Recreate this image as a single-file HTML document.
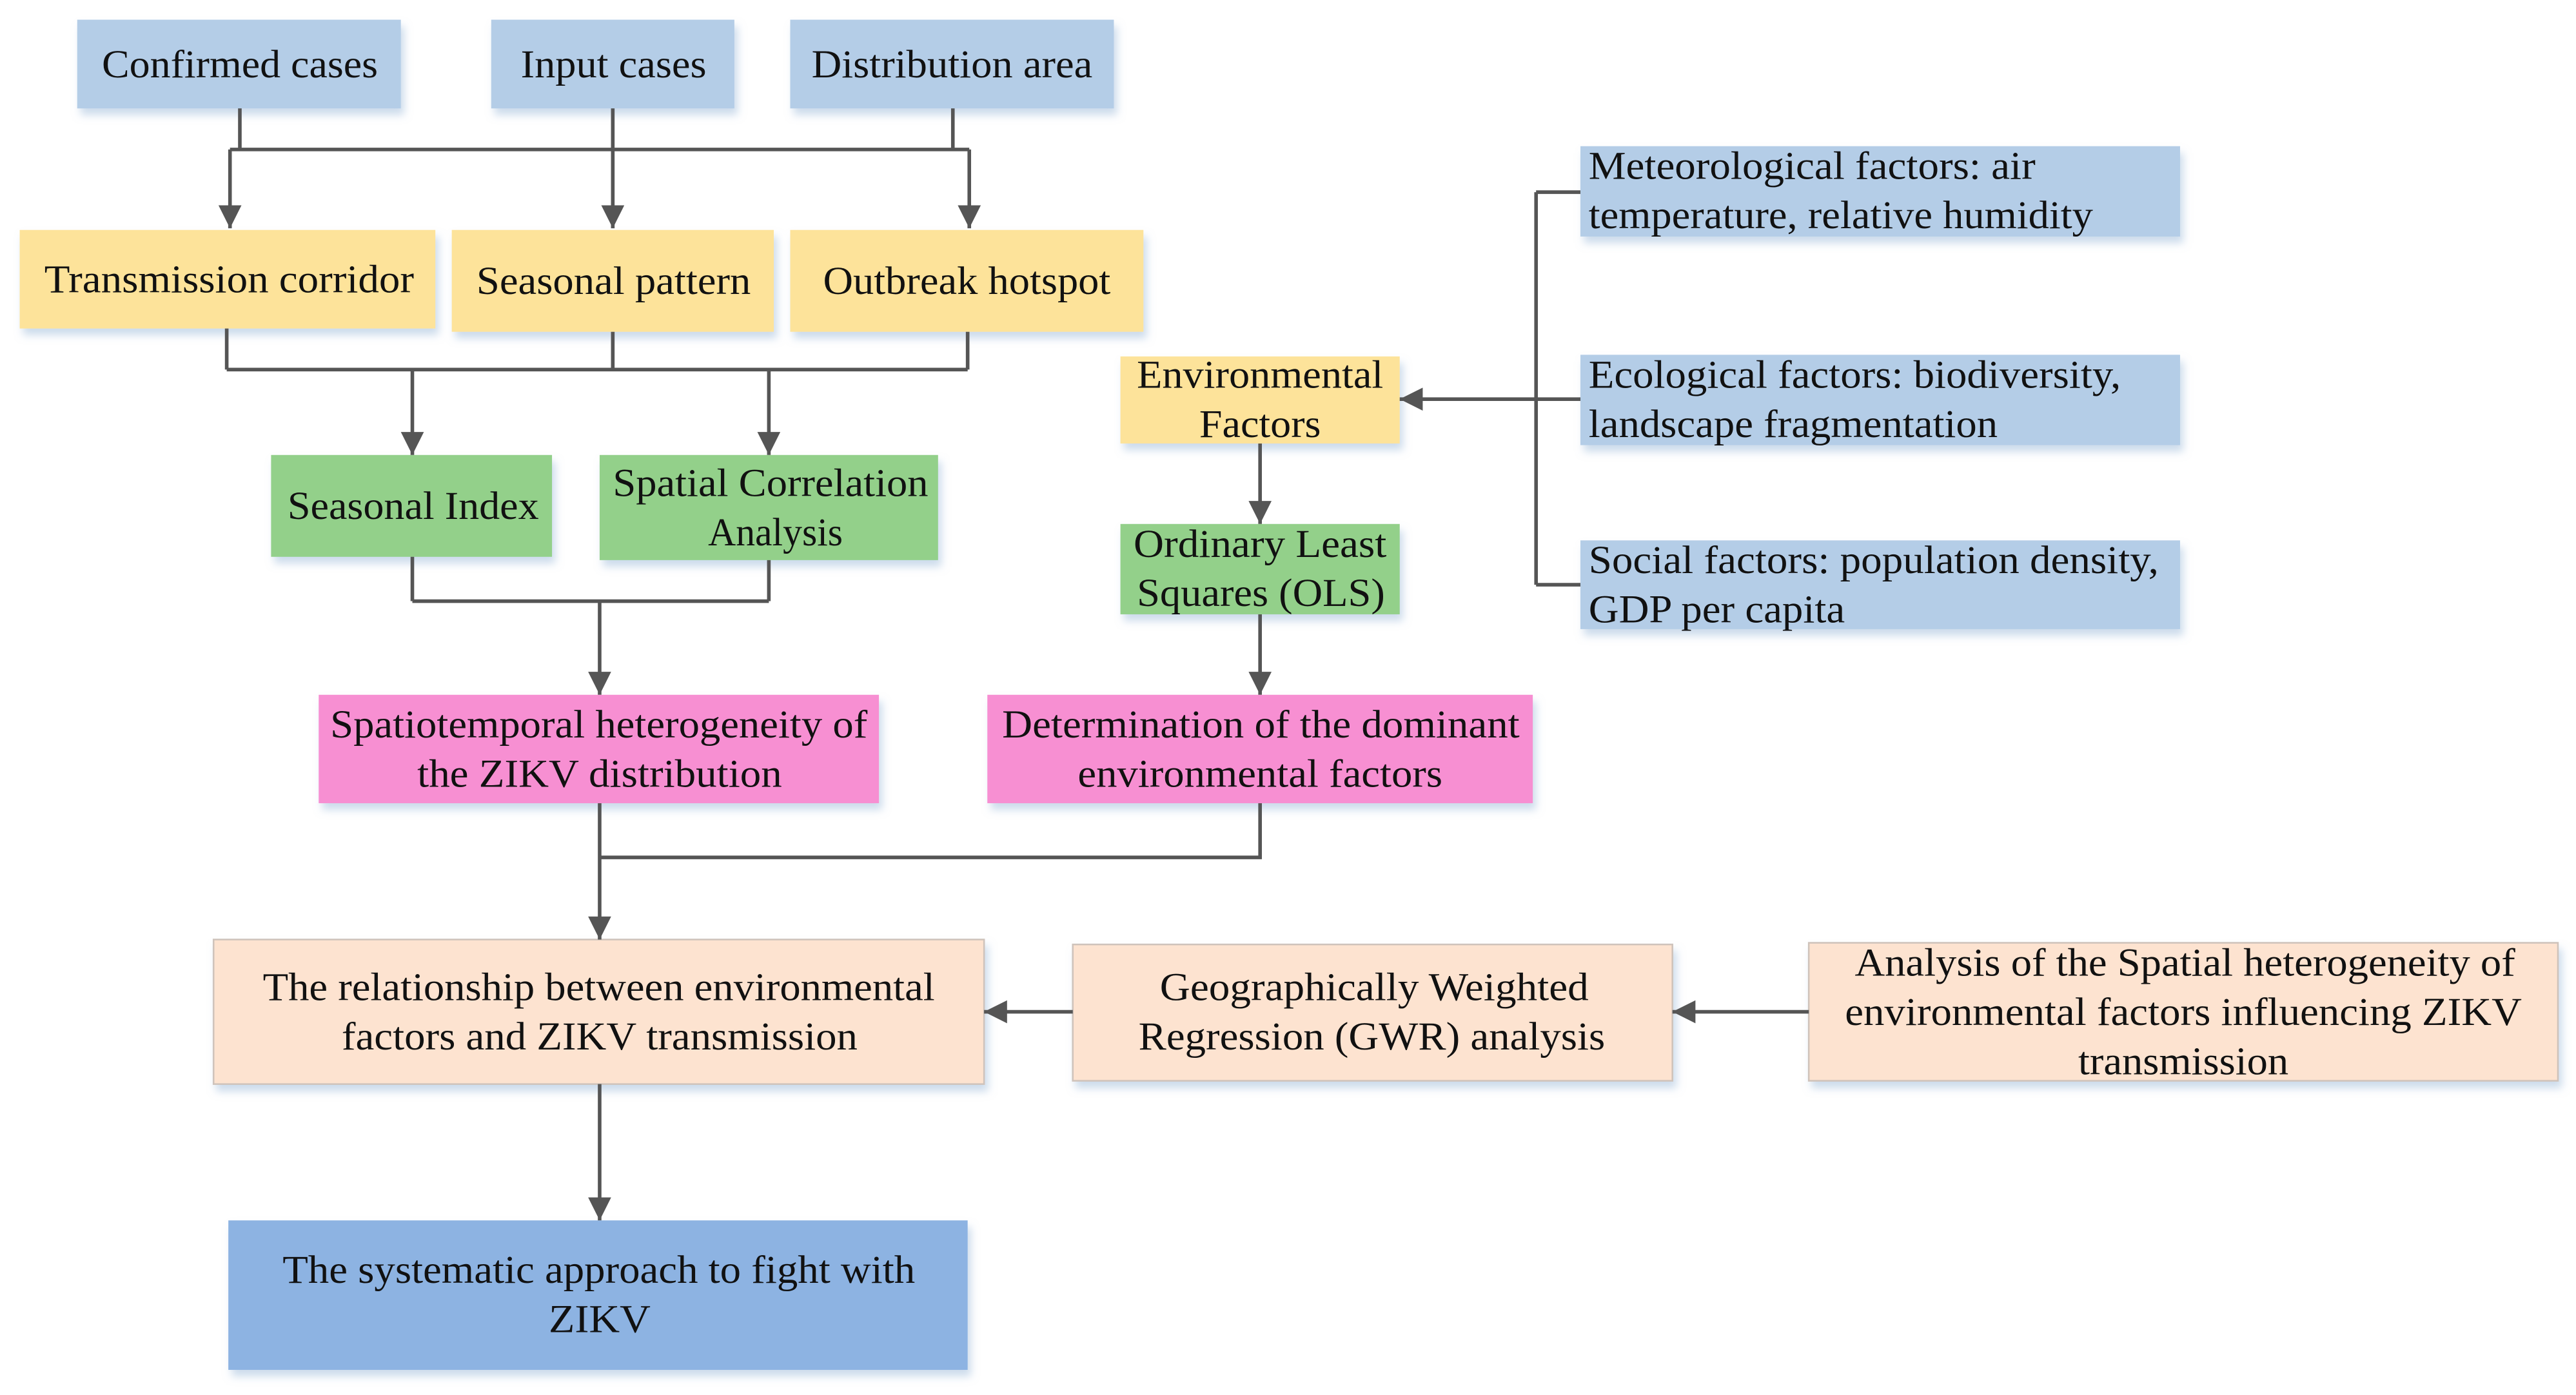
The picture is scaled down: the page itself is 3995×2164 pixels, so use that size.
<!DOCTYPE html>
<html><head><meta charset="utf-8"><style>
html,body{margin:0;padding:0;background:#fff;}
svg{display:block;}
text{font-family:"Liberation Serif","Times New Roman",serif;font-size:24px;fill:#111;}
</style></head><body>
<svg width="3995" height="2164" viewBox="0 0 1568 849.3" preserveAspectRatio="none" xmlns="http://www.w3.org/2000/svg">
<defs>
<filter id="sh" x="-10%" y="-10%" width="125%" height="140%"><feDropShadow dx="2" dy="4" stdDeviation="2.5" flood-color="#9ab8d8" flood-opacity="0.5"/></filter>
<marker id="ar" viewBox="0 0 10 10" refX="10" refY="5" markerWidth="16" markerHeight="14" orient="auto" markerUnits="userSpaceOnUse"><path d="M0,0 L10,5 L0,10 z" fill="#555"/></marker>
</defs>
<rect width="1568" height="849.3" fill="#fff"/>
<g filter="url(#sh)">
<rect x="47" y="12" width="197" height="54" fill="#b4cde7"/>
<rect x="299" y="12" width="148" height="54" fill="#b4cde7"/>
<rect x="481" y="12" width="197" height="54" fill="#b4cde7"/>
<rect x="12" y="140" width="253" height="60" fill="#fde39a"/>
<rect x="275" y="140" width="196" height="62" fill="#fde39a"/>
<rect x="481" y="140" width="215" height="62" fill="#fde39a"/>
<rect x="165" y="277" width="171" height="62" fill="#93d08a"/>
<rect x="365" y="277" width="206" height="64" fill="#93d08a"/>
<rect x="194" y="423" width="341" height="66" fill="#f78fd2"/>
<rect x="682" y="217" width="170" height="53" fill="#fde39a"/>
<rect x="682" y="319" width="170" height="55" fill="#93d08a"/>
<rect x="601" y="423" width="332" height="66" fill="#f78fd2"/>
<rect x="962" y="89" width="365" height="55" fill="#b4cde7"/>
<rect x="962" y="216" width="365" height="55" fill="#b4cde7"/>
<rect x="962" y="329" width="365" height="54" fill="#b4cde7"/>
<rect x="130" y="572" width="469" height="88" fill="#fde3d0" stroke="#cfc3bb" stroke-width="1"/>
<rect x="653" y="575" width="365" height="83" fill="#fde3d0" stroke="#cfc3bb" stroke-width="1"/>
<rect x="1101" y="574" width="456" height="84" fill="#fde3d0" stroke="#cfc3bb" stroke-width="1"/>
<rect x="139" y="743" width="450" height="91" fill="#8db3e2"/>
</g>
<g stroke="#555" stroke-width="2.2" fill="none">
<path d="M146,66 V91 M373,66 V91 M580,66 V91 M140,91 H590"/>
<path d="M140,91 V139" marker-end="url(#ar)"/>
<path d="M373,91 V139" marker-end="url(#ar)"/>
<path d="M590,91 V139" marker-end="url(#ar)"/>
<path d="M138,200 V225 M373,202 V225 M589,202 V225 M138,225 H589"/>
<path d="M251,225 V277" marker-end="url(#ar)"/>
<path d="M468,225 V277" marker-end="url(#ar)"/>
<path d="M251,339 V366 M468,341 V366 M251,366 H468"/>
<path d="M365,366 V423" marker-end="url(#ar)"/>
<path d="M767,270 V319" marker-end="url(#ar)"/>
<path d="M767,374 V423" marker-end="url(#ar)"/>
<path d="M935,117 V356 M935,117 H962 M935,356 H962 M935,243 H962"/>
<path d="M935,243 H852" marker-end="url(#ar)"/>
<path d="M767,489 V522 H365"/>
<path d="M365,489 V572" marker-end="url(#ar)"/>
<path d="M653,616 H599" marker-end="url(#ar)"/>
<path d="M1101,616 H1018" marker-end="url(#ar)"/>
<path d="M365,660 V743" marker-end="url(#ar)"/>
</g>
<g>
<text x="62" y="47" textLength="168" lengthAdjust="spacingAndGlyphs">Confirmed cases</text>
<text x="317" y="47" textLength="113" lengthAdjust="spacingAndGlyphs">Input cases</text>
<text x="494" y="47" textLength="171" lengthAdjust="spacingAndGlyphs">Distribution area</text>
<text x="27" y="178" textLength="225" lengthAdjust="spacingAndGlyphs">Transmission corridor</text>
<text x="290" y="179" textLength="167" lengthAdjust="spacingAndGlyphs">Seasonal pattern</text>
<text x="501" y="179" textLength="175" lengthAdjust="spacingAndGlyphs">Outbreak hotspot</text>
<text x="175" y="316" textLength="153" lengthAdjust="spacingAndGlyphs">Seasonal Index</text>
<text x="373" y="302" textLength="192" lengthAdjust="spacingAndGlyphs">Spatial Correlation</text>
<text x="431" y="332" textLength="82" lengthAdjust="spacingAndGlyphs">Analysis</text>
<text x="692" y="236" textLength="150" lengthAdjust="spacingAndGlyphs">Environmental</text>
<text x="730" y="266" textLength="74" lengthAdjust="spacingAndGlyphs">Factors</text>
<text x="690" y="339" textLength="154" lengthAdjust="spacingAndGlyphs">Ordinary Least</text>
<text x="692" y="369" textLength="151" lengthAdjust="spacingAndGlyphs">Squares (OLS)</text>
<text x="201" y="449" textLength="327" lengthAdjust="spacingAndGlyphs">Spatiotemporal heterogeneity of</text>
<text x="254" y="479" textLength="222" lengthAdjust="spacingAndGlyphs">the ZIKV distribution</text>
<text x="610" y="449" textLength="315" lengthAdjust="spacingAndGlyphs">Determination of the dominant</text>
<text x="656" y="479" textLength="222" lengthAdjust="spacingAndGlyphs">environmental factors</text>
<text x="967" y="109" textLength="272" lengthAdjust="spacingAndGlyphs">Meteorological factors: air</text>
<text x="967" y="139" textLength="307" lengthAdjust="spacingAndGlyphs">temperature, relative humidity</text>
<text x="967" y="236" textLength="324" lengthAdjust="spacingAndGlyphs">Ecological factors: biodiversity,</text>
<text x="967" y="266" textLength="249" lengthAdjust="spacingAndGlyphs">landscape fragmentation</text>
<text x="967" y="349" textLength="347" lengthAdjust="spacingAndGlyphs">Social factors: population density,</text>
<text x="967" y="379" textLength="156" lengthAdjust="spacingAndGlyphs">GDP per capita</text>
<text x="160" y="609" textLength="409" lengthAdjust="spacingAndGlyphs">The relationship between environmental</text>
<text x="208" y="639" textLength="314" lengthAdjust="spacingAndGlyphs">factors and ZIKV transmission</text>
<text x="706" y="609" textLength="261" lengthAdjust="spacingAndGlyphs">Geographically Weighted</text>
<text x="693" y="639" textLength="284" lengthAdjust="spacingAndGlyphs">Regression (GWR) analysis</text>
<text x="1129" y="594" textLength="402" lengthAdjust="spacingAndGlyphs">Analysis of the Spatial heterogeneity of</text>
<text x="1123" y="624" textLength="412" lengthAdjust="spacingAndGlyphs">environmental factors influencing ZIKV</text>
<text x="1265" y="654" textLength="128" lengthAdjust="spacingAndGlyphs">transmission</text>
<text x="172" y="781" textLength="385" lengthAdjust="spacingAndGlyphs">The systematic approach to fight with</text>
<text x="334" y="811" textLength="62" lengthAdjust="spacingAndGlyphs">ZIKV</text>
</g>
</svg>
</body></html>
